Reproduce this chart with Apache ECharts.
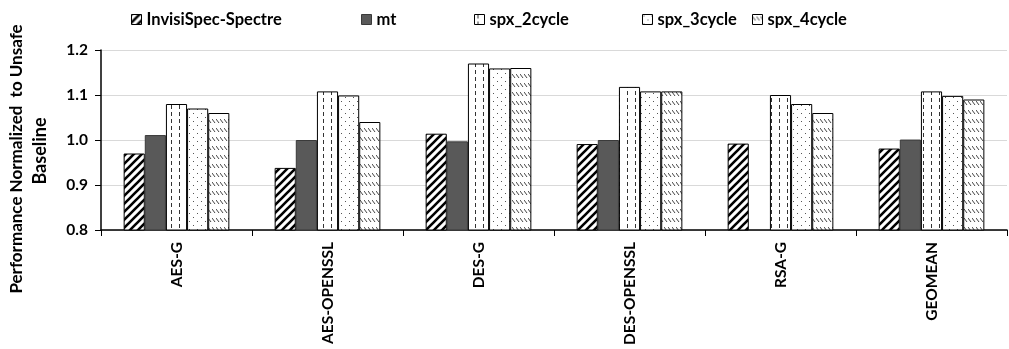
<!DOCTYPE html>
<html>
<head>
<meta charset="utf-8">
<script src="https://cdn.jsdelivr.net/npm/echarts@6/dist/echarts.min.js"></script>
<style>
html,body{margin:0;padding:0;background:#fff;}
#chart{width:1009px;height:349px;}
</style>
</head>
<body>
<div id="chart"></div>
<script>
var categories = ['AES-G', 'AES-OPENSSL', 'DES-G', 'DES-OPENSSL', 'RSA-G', 'GEOMEAN'];
var seriesNames = ['InvisiSpec-Spectre', 'mt', 'spx_2cycle', 'spx_3cycle', 'spx_4cycle'];
var invisiSpec = [0.970, 0.938, 1.014, 0.991, 0.992, 0.981];
var mt = [1.011, 1.000, 0.997, 1.000, null, 1.001];
var spx2 = [1.080, 1.108, 1.170, 1.118, 1.100, 1.108];
var spx3 = [1.070, 1.099, 1.159, 1.108, 1.080, 1.098];
var spx4 = [1.060, 1.040, 1.160, 1.108, 1.060, 1.090];
var yTicks = [0.8, 0.9, 1.0, 1.1, 1.2];
var yTitle = ['Performance Normalized  to Unsafe', 'Baseline'];

var FONT = 'Lato, "Open Sans", sans-serif';

function mk(w, h, draw) {
  var c = document.createElement('canvas');
  c.width = w; c.height = h;
  var g = c.getContext('2d');
  g.fillStyle = '#fff';
  g.fillRect(0, 0, w, h);
  draw(g);
  return c;
}
var patStripe = mk(8, 8, function (g) {
  g.strokeStyle = '#000';
  g.lineWidth = 2.6;
  g.beginPath();
  g.moveTo(-2, 10); g.lineTo(10, -2);
  g.moveTo(-2, 2); g.lineTo(2, -2);
  g.moveTo(6, 10); g.lineTo(10, 6);
  g.stroke();
});
var patDash = mk(8, 7, function (g) {
  g.fillStyle = '#333';
  g.fillRect(3, 0, 1, 4);
});
var patDots = mk(8, 8, function (g) {
  g.fillStyle = '#555';
  g.fillRect(1, 1, 1, 1);
  g.fillRect(5, 5, 1, 1);
});
var patDiag = mk(4, 9, function (g) {
  g.strokeStyle = '#444';
  g.lineWidth = 1;
  g.beginPath();
  g.moveTo(0, 2); g.lineTo(3, 6);
  g.stroke();
});

var fills = [
  {image: patStripe, repeat: 'repeat'},
  '#595959',
  {image: patDash, repeat: 'repeat'},
  {image: patDots, repeat: 'repeat'},
  {image: patDiag, repeat: 'repeat'}
];
var datas = [invisiSpec, mt, spx2, spx3, spx4];
var legendLefts = [126, 356, 469, 637, 747];

var series = seriesNames.map(function (n, i) {
  return {
    name: n,
    type: 'bar',
    data: datas[i],
    barGap: 0,
    barCategoryGap: '30%',
    itemStyle: {color: fills[i], borderColor: i === 1 ? '#3a3a3a' : '#000', borderWidth: 1},
    emphasis: {disabled: true}
  };
});

var legends = seriesNames.map(function (n, i) {
  return {
    data: [n],
    left: legendLefts[i],
    top: 6,
    icon: 'rect',
    itemWidth: 10,
    itemHeight: 10,
    itemStyle: {borderColor: i === 1 ? '#3a3a3a' : '#000', borderWidth: 1},
    textStyle: {fontFamily: FONT, fontWeight: 'bold', fontSize: 16.5, color: '#000'},
    selectedMode: false
  };
});

var chart = echarts.init(document.getElementById('chart'), null, {renderer: 'canvas'});
chart.setOption({
  animation: false,
  backgroundColor: '#fff',
  legend: legends,
  grid: {left: 101, right: 2, top: 50, bottom: 119, containLabel: false},
  xAxis: {
    type: 'category',
    data: categories,
    axisLine: {lineStyle: {color: '#000', width: 1.5}},
    axisTick: {show: true, alignWithLabel: false, length: 6, lineStyle: {color: '#000'}},
    axisLabel: {rotate: 90, margin: 12, fontFamily: FONT, fontWeight: 'bold', fontSize: 15.5, color: '#000', interval: 0}
  },
  yAxis: {
    type: 'value',
    min: yTicks[0],
    max: yTicks[yTicks.length - 1],
    interval: 0.1,
    axisLine: {show: true, lineStyle: {color: '#000', width: 1.5}},
    axisTick: {show: true, length: 6, lineStyle: {color: '#000'}},
    splitLine: {lineStyle: {color: '#d9d9d9', width: 1}},
    axisLabel: {margin: 13, fontFamily: FONT, fontWeight: 'bold', fontSize: 15.5, color: '#000',
      formatter: function (v) { return v.toFixed(1); }}
  },
  graphic: [
    {type: 'text', x: 17, y: 159, rotation: Math.PI / 2,
      style: {text: yTitle[0], fontFamily: FONT, fontWeight: 'bold', fontSize: 17,
        fill: '#000', align: 'center', verticalAlign: 'middle'}},
    {type: 'text', x: 40, y: 151, rotation: Math.PI / 2,
      style: {text: yTitle[1], fontFamily: FONT, fontWeight: 'bold', fontSize: 18,
        fill: '#000', align: 'center', verticalAlign: 'middle'}}
  ],
  series: series
});
</script>
</body>
</html>
